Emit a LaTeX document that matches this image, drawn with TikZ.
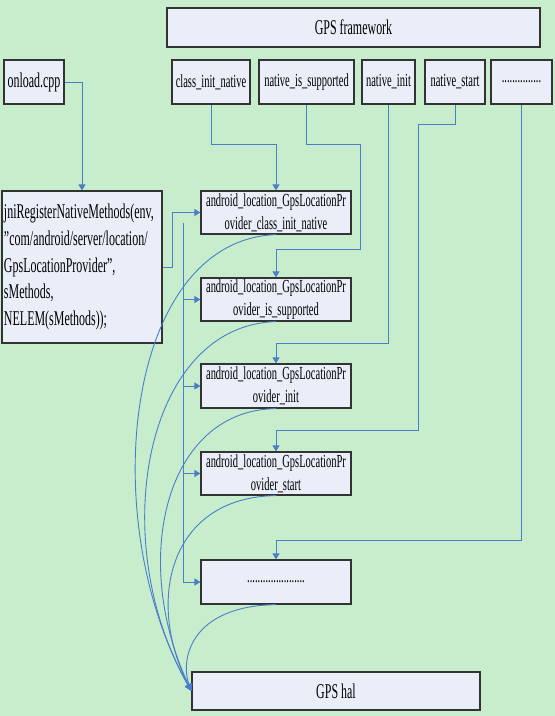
\documentclass[tikz,border=0pt]{standalone}
\usepackage{fontspec}
\setmainfont{Liberation Serif}[FakeStretch=0.57]
\usetikzlibrary{arrows.meta}
\definecolor{bg}{HTML}{C7EDCC}
\definecolor{boxfill}{HTML}{E9EEF8}
\definecolor{boxline}{HTML}{333333}
\definecolor{conncol}{HTML}{4A7EC9}
\begin{document}
\begin{tikzpicture}[x=1pt,y=-1pt,
  box/.style={draw=boxline, line width=1.2pt, fill=boxfill, inner sep=0pt, align=center},
  big/.style={font=\fontsize{21}{26.7}\selectfont},
  small/.style={font=\fontsize{18.4}{23}\selectfont},
  link/.style={draw=conncol, line width=1pt, -{Triangle[length=6pt,width=7pt]}},
  curvelink/.style={draw=conncol, line width=0.9pt, -{Triangle[length=7pt,width=7pt]}},
]
\fill[bg] (0,0) rectangle (555,716);
\useasboundingbox (0,0) rectangle (555,716);

% top row
\node[box,big,minimum width=373pt,minimum height=39pt] (fw) at (353.5,27.5) {GPS framework};
\node[box,big,minimum width=60pt,minimum height=44pt] (onload) at (34,82) {onload.cpp};
\node[box,small,minimum width=78pt,minimum height=44pt] (t1) at (211,82) {class\_init\_native};
\node[box,small,minimum width=95pt,minimum height=44pt] (t2) at (306.5,82) {native\_is\_supported};
\node[box,small,minimum width=53pt,minimum height=44pt] (t3) at (388.5,82) {native\_init};
\node[box,small,minimum width=60pt,minimum height=44pt] (t4) at (455,82) {native\_start};
\node[box,small,minimum width=61pt,minimum height=44pt] (t5) at (521.5,82) {...............};

% jni box
\node[box,big,align=left,text width=156pt,inner xsep=2pt,minimum height=152pt] (jni) at (82,267)
  {jniRegisterNativeMethods(env,\\\symbol{34}com/android/server/location/\\GpsLocationProvider\symbol{34},\\sMethods,\\NELEM(sMethods));};

% native function boxes
\node[box,small,minimum width=150pt,minimum height=43pt] (a1) at (276,212.5) {android\_location\_GpsLocationPr\\ovider\_class\_init\_native};
\node[box,small,minimum width=150pt,minimum height=43pt] (a2) at (276,299.5) {android\_location\_GpsLocationPr\\ovider\_is\_supported};
\node[box,small,minimum width=150pt,minimum height=44pt] (a3) at (276,386) {android\_location\_GpsLocationPr\\ovider\_init};
\node[box,small,minimum width=150pt,minimum height=43pt] (a4) at (276,473.5) {android\_location\_GpsLocationPr\\ovider\_start};
\node[box,small,minimum width=150pt,minimum height=44pt] (a5) at (276,582) {......................};

\node[box,big,minimum width=288pt,minimum height=38pt] (hal) at (336,691) {GPS hal};

% connectors from the top
\draw[link] (onload.east) -| (jni.north);
\draw[link] (t1.south) -- ++(0,40) -| (a1.north);
\draw[link] (t2.south) -- ++(0,40) -| (360,249) -| (a2.north);
\draw[link] (t3.south) -- (t3.south |- 0,343) -| (a3.north);
\draw[link] (t4.south) -- ++(0,20) -| (418,430) -| (a4.north);
\draw[link] (t5.south) -- (t5.south |- 0,540) -| (a5.north);

% registration links
\draw[link] (jni.east) -- ++(10,0) |- (a1.west);
\coordinate (bus) at (183,223);
\draw[link] (bus) |- (a2.west);
\draw[link] (bus) |- (a3.west);
\draw[link] (bus) |- (a4.west);
\draw[link] (bus) |- (a5.west);

% curves to GPS hal
\draw[curvelink] (a1.south) .. controls (125,240) and (95,520) .. (hal.west);
\draw[curvelink] (a2.south) .. controls (145,325) and (105,540) .. (hal.west);
\draw[curvelink] (a3.south) .. controls (165,410) and (130,560) .. (hal.west);
\draw[curvelink] (a4.south) .. controls (170,497) and (145,600) .. (hal.west);
\draw[curvelink] (a5.south) .. controls (190,606) and (180,660) .. (hal.west);
\end{tikzpicture}
\end{document}
